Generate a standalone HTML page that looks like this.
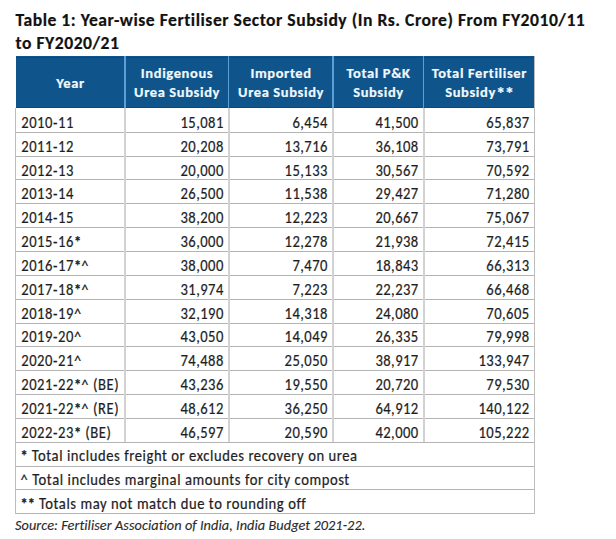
<!DOCTYPE html>
<html><head><meta charset="utf-8"><title>Fertiliser Sector Subsidy</title>
<style>
html,body{margin:0;padding:0;background:#fff;}
body{width:616px;height:539px;position:relative;overflow:hidden;font-family:Carlito,"Liberation Sans",sans-serif;}
div{position:absolute;white-space:nowrap;line-height:20px;}
.ti{-webkit-text-stroke:0.2px #111111;font-weight:700;font-size:17.6px;letter-spacing:0.52px;color:#111111;}
.hd{background:#0f558c;}
.hde{background:#0c4a7c;}
.hdv{width:1.5px;background:#5a9fd6;}
.th{font-weight:700;font-size:14.5px;letter-spacing:0.62px;color:#f2f9fd;-webkit-text-stroke:0.2px #f2f9fd;}
.c{text-align:center;}
.a{font-weight:700;letter-spacing:0;}
.th .a{font-size:1.3em;letter-spacing:-0.6px;vertical-align:-3px;}
.gh{left:15px;width:520px;height:1px;background:#b4b4b4;}
.gv{width:1px;background:#bcbcbc;}
.gv2{width:2px;background:#d2d2d2;}
.td{-webkit-text-stroke:0.2px #1e1e1e;font-size:14.6px;letter-spacing:0.57px;color:#1e1e1e;}
.n{letter-spacing:0.45px;}
.td,.fn{transform:scaleY(1.1);transform-origin:0 15px;}
.fn{-webkit-text-stroke:0.2px #1e1e1e;font-size:14.6px;letter-spacing:0.57px;color:#1e1e1e;}
.fb body{font-family:"Liberation Sans",Arial,sans-serif;}
.fb .ti{font-size:16.2px;letter-spacing:0;}
.fb .th{font-size:13.6px;letter-spacing:0;}
.fb .td,.fb .fn{font-size:14.2px;letter-spacing:0;}
.fb .n{font-size:13.6px;letter-spacing:0;}
.fb .src{font-size:13px;letter-spacing:0;}
.src{-webkit-text-stroke:0.12px #2a2a2a;font-style:italic;font-size:14.3px;letter-spacing:0.05px;color:#2a2a2a;}
</style>
<script>(function(){try{var c=document.createElement('canvas').getContext('2d');var t='Table 1: Year-wise Fertiliser';c.font='15px Carlito, monospace';var a=c.measureText(t).width;c.font='15px monospace';var b=c.measureText(t).width;if(Math.abs(a-b)<0.5)document.documentElement.className='fb';}catch(e){}})();</script></head>
<body>
<div class="ti" style="left:15.60px;top:10.39px">Table 1: Year-wise Fertiliser Sector Subsidy (In Rs. Crore) From FY2010/11</div>
<div class="ti" style="left:15.60px;top:32.99px">to FY2020/21</div>
<div class="hd" style="left:16px;top:56px;width:518px;height:52px"></div>
<div class="hde" style="left:16px;top:57px;width:518px;height:1px"></div>
<div class="hde" style="left:16px;top:107px;width:518px;height:1px"></div>
<div class="hdv" style="left:124.05px;top:56px;height:52px"></div>
<div class="hdv" style="left:227.95px;top:56px;height:52px"></div>
<div class="hdv" style="left:332.05px;top:56px;height:52px"></div>
<div class="hdv" style="left:422.85px;top:56px;height:52px"></div>
<div class="th c" style="left:-29.55px;width:200px;top:72.85px">Year</div>
<div class="th c" style="left:77.05px;width:200px;top:62.95px">Indigenous</div>
<div class="th c" style="left:77.05px;width:200px;top:81.55px">Urea Subsidy</div>
<div class="th c" style="left:181.05px;width:200px;top:62.95px">Imported</div>
<div class="th c" style="left:181.05px;width:200px;top:81.55px">Urea Subsidy</div>
<div class="th c" style="left:278.50px;width:200px;top:62.95px">Total P&amp;K</div>
<div class="th c" style="left:278.50px;width:200px;top:81.55px">Subsidy</div>
<div class="th c" style="left:379.35px;width:200px;top:62.95px">Total Fertiliser</div>
<div class="th c" style="left:379.35px;width:200px;top:81.55px">Subsidy<span class="a">*</span><span class="a">*</span></div>
<div class="gh" style="top:131.70px"></div>
<div class="gh" style="top:155.55px"></div>
<div class="gh" style="top:179.40px"></div>
<div class="gh" style="top:203.25px"></div>
<div class="gh" style="top:227.10px"></div>
<div class="gh" style="top:250.95px"></div>
<div class="gh" style="top:274.80px"></div>
<div class="gh" style="top:298.65px"></div>
<div class="gh" style="top:322.50px"></div>
<div class="gh" style="top:346.35px"></div>
<div class="gh" style="top:370.20px"></div>
<div class="gh" style="top:394.05px"></div>
<div class="gh" style="top:417.90px"></div>
<div class="gh" style="top:441.75px"></div>
<div class="gh" style="top:465.60px"></div>
<div class="gh" style="top:489.45px"></div>
<div class="gh" style="top:513.30px"></div>
<div class="gv" style="left:15.00px;top:108px;height:406.30px"></div>
<div class="gv" style="left:534.00px;top:56px;height:458.30px"></div>
<div class="gv2" style="left:124.00px;top:108px;height:334.25px"></div>
<div class="gv2" style="left:227.90px;top:108px;height:334.25px"></div>
<div class="gv2" style="left:332.00px;top:108px;height:334.25px"></div>
<div class="gv2" style="left:422.80px;top:108px;height:334.25px"></div>
<div class="td" style="left:21.20px;top:112.81px">2010-11</div>
<div class="td n" style="right:392.20px;top:112.81px">15,081</div>
<div class="td n" style="right:288.10px;top:112.81px">6,454</div>
<div class="td n" style="right:197.30px;top:112.81px">41,500</div>
<div class="td n" style="right:86.40px;top:112.81px">65,837</div>
<div class="td" style="left:21.20px;top:136.66px">2011-12</div>
<div class="td n" style="right:392.20px;top:136.66px">20,208</div>
<div class="td n" style="right:288.10px;top:136.66px">13,716</div>
<div class="td n" style="right:197.30px;top:136.66px">36,108</div>
<div class="td n" style="right:86.40px;top:136.66px">73,791</div>
<div class="td" style="left:21.20px;top:160.51px">2012-13</div>
<div class="td n" style="right:392.20px;top:160.51px">20,000</div>
<div class="td n" style="right:288.10px;top:160.51px">15,133</div>
<div class="td n" style="right:197.30px;top:160.51px">30,567</div>
<div class="td n" style="right:86.40px;top:160.51px">70,592</div>
<div class="td" style="left:21.20px;top:184.36px">2013-14</div>
<div class="td n" style="right:392.20px;top:184.36px">26,500</div>
<div class="td n" style="right:288.10px;top:184.36px">11,538</div>
<div class="td n" style="right:197.30px;top:184.36px">29,427</div>
<div class="td n" style="right:86.40px;top:184.36px">71,280</div>
<div class="td" style="left:21.20px;top:208.21px">2014-15</div>
<div class="td n" style="right:392.20px;top:208.21px">38,200</div>
<div class="td n" style="right:288.10px;top:208.21px">12,223</div>
<div class="td n" style="right:197.30px;top:208.21px">20,667</div>
<div class="td n" style="right:86.40px;top:208.21px">75,067</div>
<div class="td" style="left:21.20px;top:232.06px">2015-16<span class="a">*</span></div>
<div class="td n" style="right:392.20px;top:232.06px">36,000</div>
<div class="td n" style="right:288.10px;top:232.06px">12,278</div>
<div class="td n" style="right:197.30px;top:232.06px">21,938</div>
<div class="td n" style="right:86.40px;top:232.06px">72,415</div>
<div class="td" style="left:21.20px;top:255.91px">2016-17<span class="a">*</span>^</div>
<div class="td n" style="right:392.20px;top:255.91px">38,000</div>
<div class="td n" style="right:288.10px;top:255.91px">7,470</div>
<div class="td n" style="right:197.30px;top:255.91px">18,843</div>
<div class="td n" style="right:86.40px;top:255.91px">66,313</div>
<div class="td" style="left:21.20px;top:279.76px">2017-18<span class="a">*</span>^</div>
<div class="td n" style="right:392.20px;top:279.76px">31,974</div>
<div class="td n" style="right:288.10px;top:279.76px">7,223</div>
<div class="td n" style="right:197.30px;top:279.76px">22,237</div>
<div class="td n" style="right:86.40px;top:279.76px">66,468</div>
<div class="td" style="left:21.20px;top:303.61px">2018-19^</div>
<div class="td n" style="right:392.20px;top:303.61px">32,190</div>
<div class="td n" style="right:288.10px;top:303.61px">14,318</div>
<div class="td n" style="right:197.30px;top:303.61px">24,080</div>
<div class="td n" style="right:86.40px;top:303.61px">70,605</div>
<div class="td" style="left:21.20px;top:327.46px">2019-20^</div>
<div class="td n" style="right:392.20px;top:327.46px">43,050</div>
<div class="td n" style="right:288.10px;top:327.46px">14,049</div>
<div class="td n" style="right:197.30px;top:327.46px">26,335</div>
<div class="td n" style="right:86.40px;top:327.46px">79,998</div>
<div class="td" style="left:21.20px;top:351.31px">2020-21^</div>
<div class="td n" style="right:392.20px;top:351.31px">74,488</div>
<div class="td n" style="right:288.10px;top:351.31px">25,050</div>
<div class="td n" style="right:197.30px;top:351.31px">38,917</div>
<div class="td n" style="right:86.40px;top:351.31px">133,947</div>
<div class="td" style="left:21.20px;top:375.16px">2021-22<span class="a">*</span>^ (BE)</div>
<div class="td n" style="right:392.20px;top:375.16px">43,236</div>
<div class="td n" style="right:288.10px;top:375.16px">19,550</div>
<div class="td n" style="right:197.30px;top:375.16px">20,720</div>
<div class="td n" style="right:86.40px;top:375.16px">79,530</div>
<div class="td" style="left:21.20px;top:399.01px">2021-22<span class="a">*</span>^ (RE)</div>
<div class="td n" style="right:392.20px;top:399.01px">48,612</div>
<div class="td n" style="right:288.10px;top:399.01px">36,250</div>
<div class="td n" style="right:197.30px;top:399.01px">64,912</div>
<div class="td n" style="right:86.40px;top:399.01px">140,122</div>
<div class="td" style="left:21.20px;top:422.86px">2022-23<span class="a">*</span> (BE)</div>
<div class="td n" style="right:392.20px;top:422.86px">46,597</div>
<div class="td n" style="right:288.10px;top:422.86px">20,590</div>
<div class="td n" style="right:197.30px;top:422.86px">42,000</div>
<div class="td n" style="right:86.40px;top:422.86px">105,222</div>
<div class="fn" style="left:20.50px;top:446.11px"><span class="a">*</span> Total includes freight or excludes recovery on urea</div>
<div class="fn" style="left:20.50px;top:469.96px">^ Total includes marginal amounts for city compost</div>
<div class="fn" style="left:20.50px;top:493.81px"><span class="a">*</span><span class="a">*</span> Totals may not match due to rounding off</div>
<div class="src" style="left:15.00px;top:514.81px">Source: Fertiliser Association of India, India Budget 2021-22.</div>
</body></html>
